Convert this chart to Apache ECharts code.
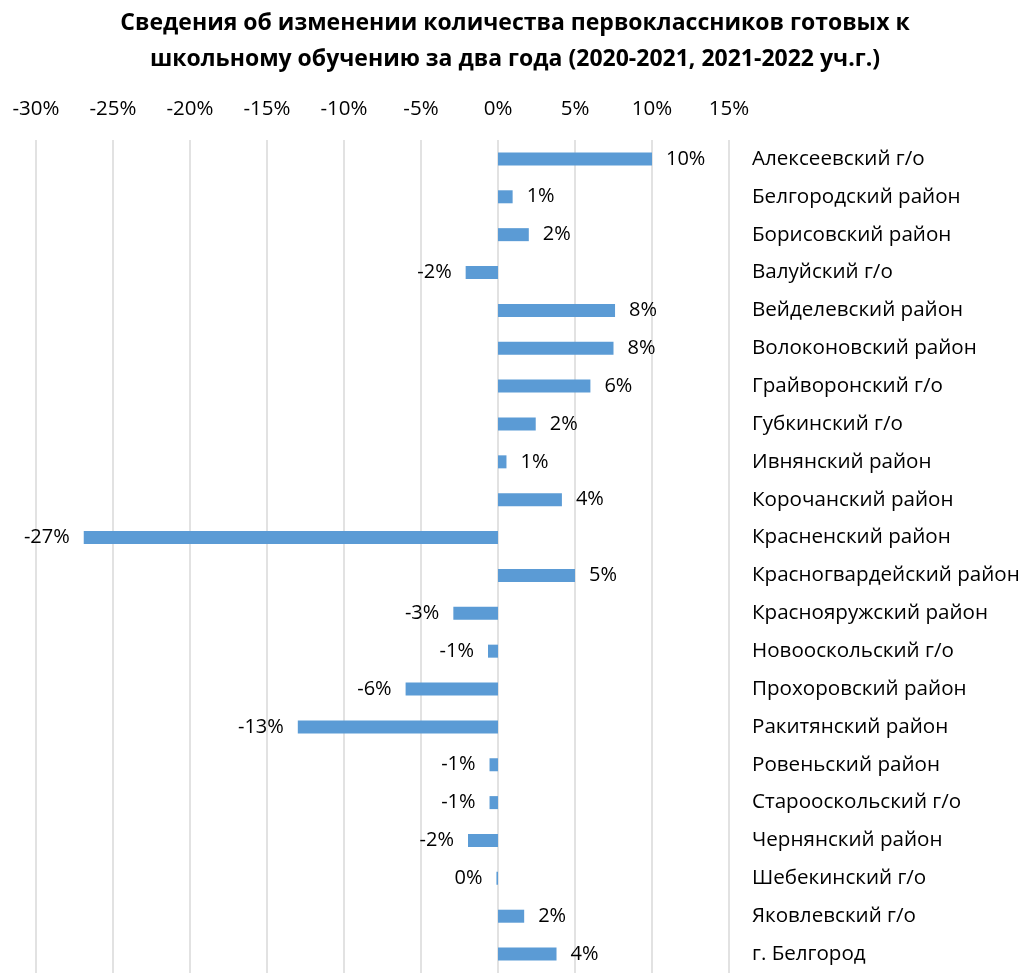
<!DOCTYPE html>
<html>
<head>
<meta charset="utf-8">
<script src="https://cdn.jsdelivr.net/npm/echarts@6/dist/echarts.min.js"></script>
<style>
html,body{margin:0;padding:0;background:#fff;}
#chart{width:1023px;height:973px;}
</style>
</head>
<body>
<div id="chart"></div>
<script>
const titleText = 'Сведения об изменении количества первоклассников готовых к\nшкольному обучению за два года (2020-2021, 2021-2022 уч.г.)';
const categories = [
  'Алексеевский г/о','Белгородский район','Борисовский район','Валуйский г/о',
  'Вейделевский район','Волоконовский район','Грайворонский г/о','Губкинский г/о',
  'Ивнянский район','Корочанский район','Красненский район','Красногвардейский район',
  'Краснояружский район','Новооскольский г/о','Прохоровский район','Ракитянский район',
  'Ровеньский район','Старооскольский г/о','Чернянский район','Шебекинский г/о',
  'Яковлевский г/о','г. Белгород'
];
const changePct = [
  10.0, 0.95, 2.0, -2.1,
  7.6, 7.5, 6.0, 2.45,
  0.55, 4.15, -26.9, 5.0,
  -2.9, -0.65, -6.0, -13.0,
  -0.55, -0.55, -1.95, -0.1,
  1.7, 3.8
];
const axisMin = -30, axisMax = 15, axisStep = 5;

function fmt(v){
  const r = Math.round(Math.abs(v));
  return (v < 0 && r > 0 ? '-' : '') + r + '%';
}

const FONT = 'Open Sans';
const chart = echarts.init(document.getElementById('chart'));
chart.setOption({
  backgroundColor: '#fff',
  animation: false,
  title: {
    text: titleText,
    left: 510, top: 0, textAlign: 'center',
    textStyle: {fontFamily: FONT, fontWeight: 'bold', fontSize: 23, lineHeight: 36, color: '#000'}
  },
  grid: {left: 36, top: 140, width: 693, height: 841, containLabel: false},
  xAxis: {
    type: 'value', position: 'top', min: axisMin, max: axisMax, interval: axisStep,
    axisLine: {show: false}, axisTick: {show: false},
    axisLabel: {formatter: '{value}%', fontFamily: FONT, fontSize: 20.5, color: '#000', margin: 20},
    splitLine: {lineStyle: {color: '#d9d9d9', width: 1.5}}
  },
  yAxis: {
    type: 'category', data: categories, inverse: true, position: 'right',
    axisLine: {show: false}, axisTick: {show: false},
    axisLabel: {align: 'left', margin: 23, fontFamily: FONT, fontSize: 20.6, color: '#000'}
  },
  series: [{
    type: 'bar', barWidth: 13,
    itemStyle: {color: '#5b9bd5'},
    data: changePct.map(v => ({value: v, label: {position: v < 0 ? 'left' : 'right'}})),
    label: {show: true, distance: 14, fontFamily: FONT, fontSize: 20, color: '#000',
      formatter: p => fmt(p.value)}
  }]
});
</script>
</body>
</html>
